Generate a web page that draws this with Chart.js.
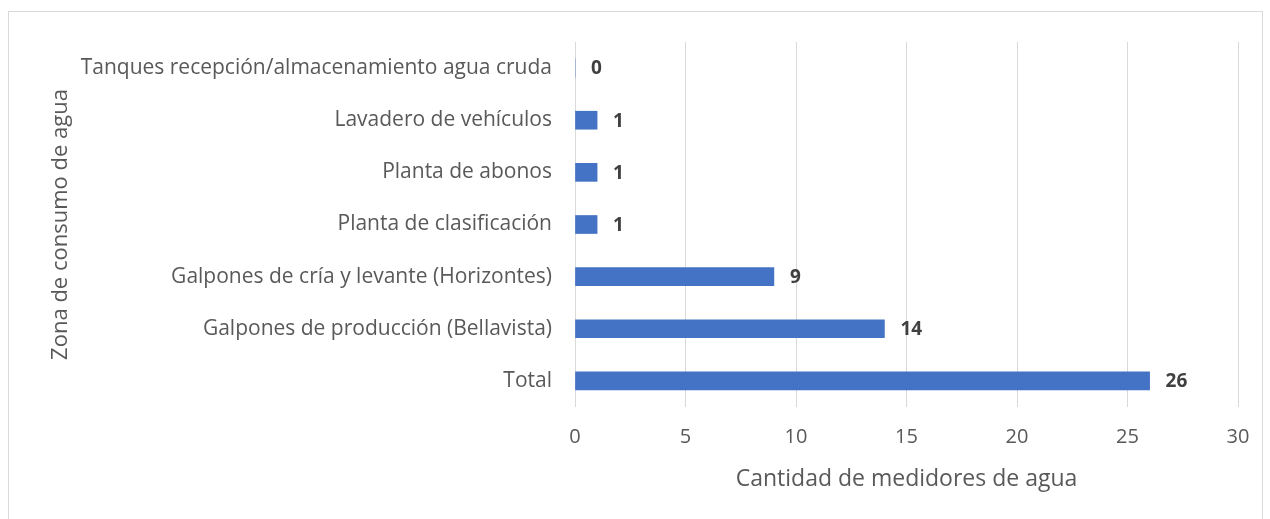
<!DOCTYPE html>
<html>
<head>
<meta charset="utf-8">
<script src="https://cdn.jsdelivr.net/npm/chart.js@4.4.0/dist/chart.umd.min.js"></script>
<style>
  body { margin: 0; background: #fff; }
  #frame { position: absolute; left: 8px; top: 11px; width: 1253px; height: 520px; border: 1px solid #d9d9d9; }
  canvas { display: block; }
</style>
</head>
<body>
<div id="frame"><canvas id="chart" width="1253" height="507"></canvas></div>
<script>
const zonas = [
  'Tanques recepción/almacenamiento agua cruda',
  'Lavadero de vehículos',
  'Planta de abonos',
  'Planta de clasificación',
  'Galpones de cría y levante (Horizontes)',
  'Galpones de producción (Bellavista)',
  'Total'
];
const medidores = [0, 1, 1, 1, 9, 14, 26];
const xTicks = [0, 5, 10, 15, 20, 25, 30];

const fontFamily = '"Open Sans", sans-serif';
const textColor = '#595959';

// etiquetas de datos en negrita al final de cada barra
const valueLabels = {
  id: 'valueLabels',
  afterDatasetsDraw(chart) {
    const ctx = chart.ctx;
    const meta = chart.getDatasetMeta(0);
    ctx.save();
    ctx.font = 'bold 19px ' + fontFamily;
    ctx.fillStyle = '#404040';
    ctx.textAlign = 'left';
    ctx.textBaseline = 'middle';
    meta.data.forEach((bar, i) => {
      ctx.fillText(String(medidores[i]), bar.x + 16, bar.y + 1);
    });
    ctx.restore();
  }
};

new Chart(document.getElementById('chart'), {
  type: 'bar',
  data: {
    labels: zonas,
    datasets: [{
      data: medidores,
      backgroundColor: '#4472C4',
      barThickness: 18
    }]
  },
  options: {
    indexAxis: 'y',
    responsive: false,
    animation: false,
    layout: { padding: { left: 39, right: 24, top: 30, bottom: 26 } },
    plugins: {
      legend: { display: false },
      tooltip: { enabled: false }
    },
    scales: {
      x: {
        min: 0,
        max: 30,
        afterBuildTicks(axis) {
          axis.ticks = xTicks.map(v => ({ value: v }));
        },
        grid: { color: '#d9d9d9', drawTicks: false },
        border: { display: false },
        ticks: { color: textColor, font: { family: fontFamily, size: 20 }, padding: 18 },
        title: {
          display: true,
          text: 'Cantidad de medidores de agua',
          color: textColor,
          font: { family: fontFamily, size: 23 },
          padding: { top: 14, bottom: 0 }
        },
        afterFit(axis) {
          axis.height = 86;
          axis.paddingLeft = 0;
          axis.paddingRight = 0;
        }
      },
      y: {
        grid: { display: false, drawTicks: false },
        border: { display: false },
        ticks: { color: textColor, font: { family: fontFamily, size: 21 }, padding: 23 },
        title: {
          display: true,
          text: 'Zona de consumo de agua',
          color: textColor,
          font: { family: fontFamily, size: 22 },
          padding: 0
        },
        afterFit(axis) {
          axis.width = 527;
          axis.paddingTop = 0;
          axis.paddingBottom = 0;
        }
      }
    }
  },
  plugins: [valueLabels]
});
</script>
</body>
</html>
